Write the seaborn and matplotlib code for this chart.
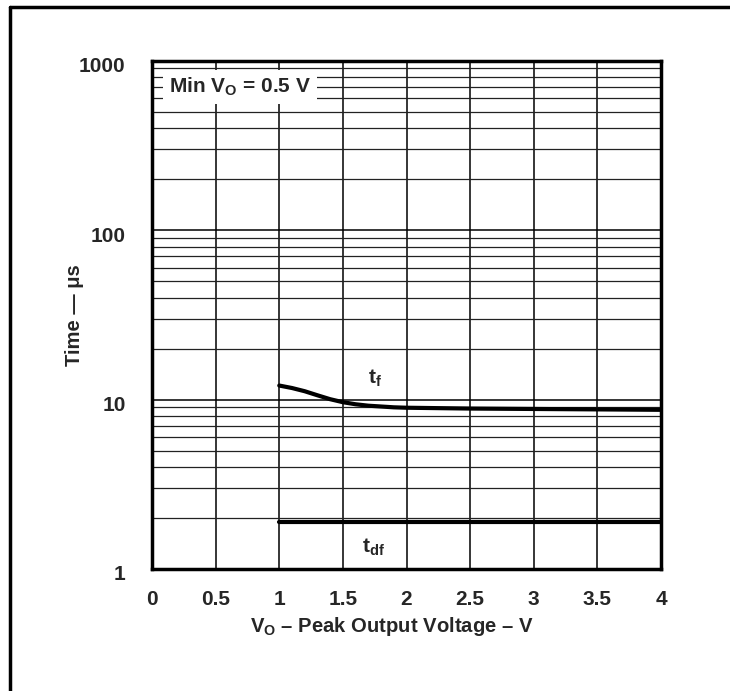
import matplotlib
matplotlib.use("Agg")
import matplotlib.pyplot as plt
import matplotlib.transforms as mtransforms
import seaborn as sns
import pandas as pd
from matplotlib.lines import Line2D
from matplotlib.ticker import FixedLocator, NullFormatter, LogLocator

# ---- data ----
tf_x = [1.0, 1.1, 1.2, 1.3, 1.4, 1.5, 1.6, 1.7, 1.8, 1.9, 2.0, 2.5, 3.0, 3.5, 4.0]
tf_y = [12.1, 11.7, 11.2, 10.6, 10.05, 9.65, 9.38, 9.2, 9.1, 9.0, 8.95, 8.85, 8.8, 8.75, 8.7]
tdf_x = [1.0, 4.0]
tdf_y = [1.9, 1.9]
x_ticks = [0, 0.5, 1, 1.5, 2, 2.5, 3, 3.5, 4]
x_tick_labels = ["0", "0.5", "1", "1.5", "2", "2.5", "3", "3.5", "4"]
y_ticks = [1, 10, 100, 1000]
y_tick_labels = ["1", "10", "100", "1000"]

sns.set_theme(style="white")
plt.rcParams["font.family"] = ["Liberation Sans", "DejaVu Sans"]
plt.rcParams["font.weight"] = "bold"
plt.rcParams["mathtext.fontset"] = "custom"
plt.rcParams["mathtext.rm"] = "Liberation Sans:bold"
plt.rcParams["mathtext.bf"] = "Liberation Sans:bold"
plt.rcParams["mathtext.it"] = "Liberation Sans:bold:italic"

FS = 15

fig = plt.figure(figsize=(7.30, 6.91), dpi=100)
ax = fig.add_axes([152 / 730, 1 - 569 / 691, 509 / 730, (569 - 60.7) / 691])

df_tf = pd.DataFrame({"x": tf_x, "y": tf_y})
df_tdf = pd.DataFrame({"x": tdf_x, "y": tdf_y})
sns.lineplot(data=df_tf, x="x", y="y", ax=ax, color="black", linewidth=3.0, zorder=5)
sns.lineplot(data=df_tdf, x="x", y="y", ax=ax, color="black", linewidth=3.0, zorder=5)

ax.set_yscale("log")
ax.set_xlim(0, 4)
ax.set_ylim(1, 1000)

ax.xaxis.set_major_locator(FixedLocator(x_ticks))
ax.set_xticklabels(x_tick_labels)
ax.yaxis.set_major_locator(FixedLocator(y_ticks))
ax.set_yticklabels(y_tick_labels)
ax.yaxis.set_minor_locator(LogLocator(base=10, subs=[2, 3, 4, 5, 6, 7, 8, 9]))
ax.yaxis.set_minor_formatter(NullFormatter())

ax.grid(True, which="major", color="black", linewidth=1.1, zorder=1)
ax.grid(True, which="minor", axis="y", color="#222222", linewidth=0.9, zorder=1)
ax.set_axisbelow(True)

ax.tick_params(axis="both", which="both", length=0)
ax.tick_params(axis="y", which="major", pad=19, labelsize=FS)
ax.tick_params(axis="x", which="major", pad=15, labelsize=FS)
offset = mtransforms.ScaledTranslation(0, -4 / 100, fig.dpi_scale_trans)
for lbl in ax.get_yticklabels():
    lbl.set_fontweight("bold")
    lbl.set_transform(lbl.get_transform() + offset)
for lbl in ax.get_xticklabels():
    lbl.set_fontweight("bold")

for sp in ax.spines.values():
    sp.set_visible(True)
    sp.set_color("black")
    sp.set_linewidth(2.5)

ax.set_xlabel(r"V$_\mathrm{O}$ – Peak Output Voltage – V", fontsize=14.6, fontweight="bold")
ax.set_ylabel("Time — μs", fontsize=14.6, fontweight="bold")
ax.xaxis.set_label_coords(0.4705, -0.09)
ax.yaxis.set_label_coords(-0.134, 0.5)

ax.text(1.75, 13.4, r"t$_\mathrm{f}$", fontsize=FS, fontweight="bold", ha="center", va="center")
ax.text(1.74, 1.35, r"t$_\mathrm{df}$", fontsize=FS, fontweight="bold", ha="center", va="center")
ax.text(0.69, 700, r"Min V$_\mathrm{O}$ = 0.5 V", fontsize=FS, fontweight="bold",
        ha="center", va="center", zorder=6,
        bbox=dict(facecolor="white", edgecolor="none", pad=4))

# outer frame (top and left edges)
fig.add_artist(Line2D([10 / 730, 1.0], [1 - 7 / 691, 1 - 7 / 691], transform=fig.transFigure,
                      color="black", linewidth=2.5))
fig.add_artist(Line2D([10 / 730, 10 / 730], [0.0, 1 - 7 / 691], transform=fig.transFigure,
                      color="black", linewidth=2.5))

fig.savefig("out.png", dpi=100, facecolor="white")
